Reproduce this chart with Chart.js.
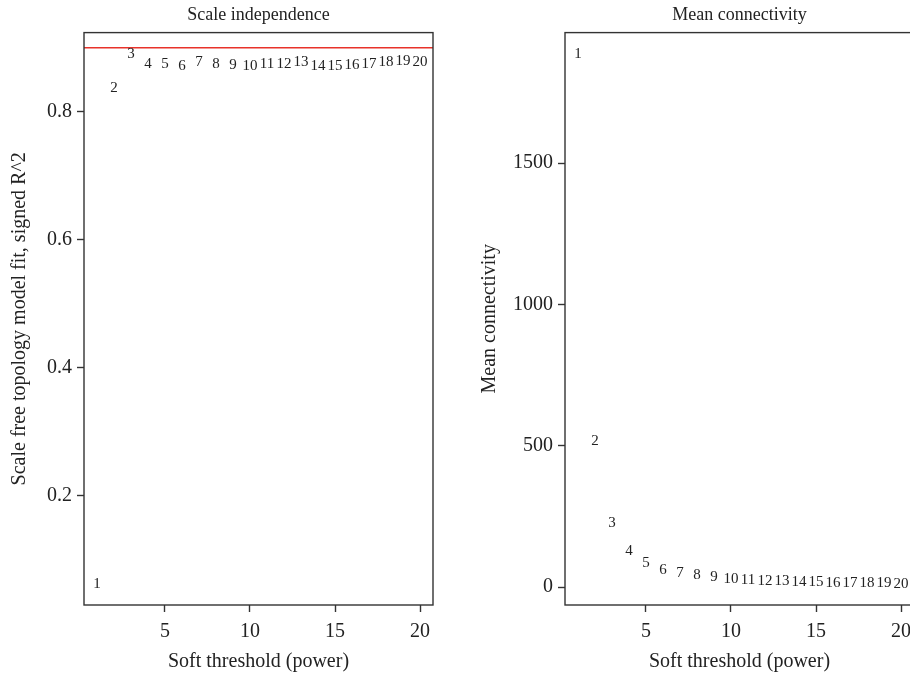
<!DOCTYPE html>
<html>
<head>
<meta charset="utf-8">
<script src="https://cdn.jsdelivr.net/npm/chart.js@4.4.1/dist/chart.umd.min.js"></script>
<style>
  html, body { margin: 0; padding: 0; background: #fff; overflow: hidden; }
  #wrap { position: relative; width: 910px; height: 682px; overflow: hidden; }
  .panel { position: absolute; top: 0; }
  #left { left: 0; }
  #right { left: 455px; }
</style>
</head>
<body>
<div id="wrap">
  <div class="panel" id="left"><canvas id="scaleIndependence" width="455" height="682"></canvas></div>
  <div class="panel" id="right"><canvas id="meanConnectivity" width="475" height="682"></canvas></div>
</div>
<script>
// soft-thresholding powers and the network stats for each
const powers = [1, 2, 3, 4, 5, 6, 7, 8, 9, 10, 11, 12, 13, 14, 15, 16, 17, 18, 19, 20];
const signedR2 = [0.062, 0.8375, 0.8906, 0.874, 0.875, 0.871, 0.878, 0.875, 0.873, 0.872,
                  0.875, 0.874, 0.878, 0.872, 0.871, 0.873, 0.875, 0.877, 0.879, 0.878];
const meanK = [1887, 516, 226, 128, 87, 62, 50, 42, 35, 27,
               24, 21, 20, 19, 17, 16, 15, 14, 13, 12];
const r2Cutoff = 0.9;

const powerTicks = [5, 10, 15, 20];
const r2Ticks = [0.2, 0.4, 0.6, 0.8];
const kTicks = [0, 500, 1000, 1500];

const serif = "'Liberation Serif', 'DejaVu Serif', serif";
const ink = "#222";
const frame = "#333";

// R-style axis range: data range padded by 4% each side
const padRange = arr => {
  const lo = Math.min(...arr), hi = Math.max(...arr);
  const p = (hi - lo) * 0.04;
  return [lo - p, hi + p];
};

const frameBox = {
  id: "frameBox",
  afterDraw(chart) {
    const { ctx, chartArea: a } = chart;
    ctx.save();
    ctx.strokeStyle = frame;
    ctx.lineWidth = 1.4;
    ctx.strokeRect(a.left, a.top, a.right - a.left, a.bottom - a.top);
    ctx.restore();
  }
};

// each point is drawn as its power number, like text() in R
const powerLabels = {
  id: "powerLabels",
  afterDatasetsDraw(chart) {
    const { ctx } = chart;
    const meta = chart.getDatasetMeta(0);
    ctx.save();
    ctx.fillStyle = ink;
    ctx.font = "15px " + serif;
    ctx.textAlign = "center";
    ctx.textBaseline = "middle";
    meta.data.forEach((pt, i) => {
      ctx.fillText(String(powers[i]), pt.x, pt.y);
    });
    ctx.restore();
  }
};

function axisX(range) {
  return {
    type: "linear",
    min: range[0],
    max: range[1],
    afterBuildTicks: s => { s.ticks = powerTicks.map(v => ({ value: v })); },
    afterFit: s => { s.height = 77; },
    grid: { drawOnChartArea: false, drawTicks: true, tickLength: 7, tickColor: frame, tickWidth: 1.4 },
    border: { display: false },
    ticks: { color: ink, font: { family: serif, size: 20 }, padding: 8, maxRotation: 0, autoSkip: false },
    title: {
      display: true,
      text: "Soft threshold (power)",
      color: ink,
      font: { family: serif, size: 20 },
      padding: { top: 0, bottom: 8 }
    }
  };
}

function axisY(range, ticks, label, width, titlePad, fmt) {
  return {
    type: "linear",
    min: range[0],
    max: range[1],
    afterBuildTicks: s => { s.ticks = ticks.map(v => ({ value: v })); },
    afterFit: s => { s.width = width; },
    grid: { drawOnChartArea: false, drawTicks: true, tickLength: 7, tickColor: frame, tickWidth: 1.4 },
    border: { display: false },
    ticks: { color: ink, font: { family: serif, size: 20 }, padding: 5, autoSkip: false, callback: fmt },
    title: {
      display: true,
      text: label,
      color: ink,
      font: { family: serif, size: 20 },
      padding: { top: titlePad, bottom: 0 }
    }
  };
}

function panelTitle(text) {
  return {
    display: true,
    text: text,
    fullSize: false,
    color: ink,
    font: { family: serif, size: 18, weight: "normal" },
    padding: { top: 4, bottom: 7 }
  };
}

const xRange = padRange(powers);
const r2Range = padRange(signedR2);
const kRange = padRange(meanK);

new Chart(document.getElementById("scaleIndependence"), {
  type: "scatter",
  data: {
    datasets: [
      {
        data: powers.map((p, i) => ({ x: p, y: signedR2[i] })),
        pointRadius: 0,
        pointHoverRadius: 0
      },
      {
        // cutoff line across the whole panel
        data: [{ x: xRange[0], y: r2Cutoff }, { x: xRange[1], y: r2Cutoff }],
        showLine: true,
        borderColor: "#e8322a",
        borderWidth: 1.5,
        pointRadius: 0
      }
    ]
  },
  options: {
    responsive: false,
    animation: false,
    layout: { padding: { left: 0, right: 22, top: 0, bottom: 0 } },
    plugins: {
      legend: { display: false },
      tooltip: { enabled: false },
      title: panelTitle("Scale independence")
    },
    scales: {
      x: axisX(xRange),
      y: axisY(r2Range, r2Ticks, "Scale free topology model fit, signed R^2", 84, 8, v => v.toFixed(1))
    }
  },
  plugins: [powerLabels, frameBox]
});

// right panel runs past the page edge, so its frame is cut off on the right
new Chart(document.getElementById("meanConnectivity"), {
  type: "scatter",
  data: {
    datasets: [
      {
        data: powers.map((p, i) => ({ x: p, y: meanK[i] })),
        pointRadius: 0,
        pointHoverRadius: 0
      }
    ]
  },
  options: {
    responsive: false,
    animation: false,
    layout: { padding: { left: 0, right: 16, top: 0, bottom: 0 } },
    plugins: {
      legend: { display: false },
      tooltip: { enabled: false },
      title: panelTitle("Mean connectivity")
    },
    scales: {
      x: axisX(xRange),
      y: axisY(kRange, kTicks, "Mean connectivity", 110, 23, v => String(v))
    }
  },
  plugins: [powerLabels, frameBox]
});
</script>
</body>
</html>
